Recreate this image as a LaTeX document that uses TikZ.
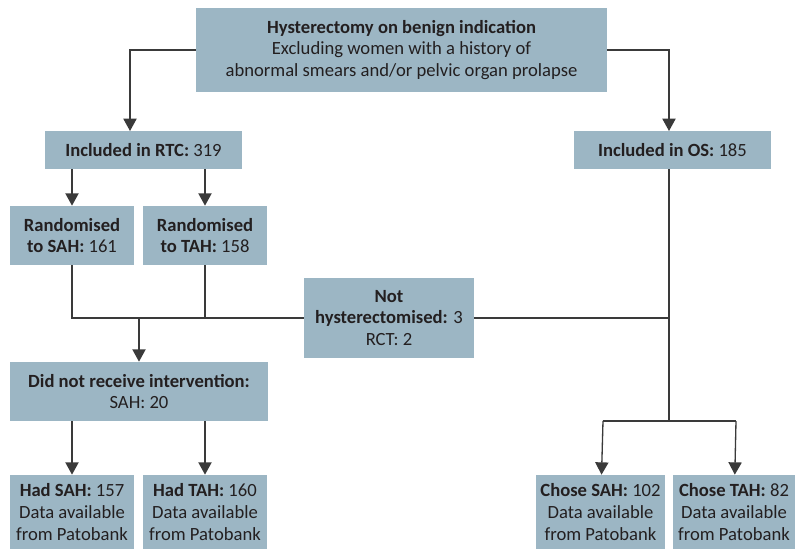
\documentclass[tikz,border=0pt]{standalone}
\usepackage{fontspec}
\setmainfont{Carlito}
\usepackage{tikz}
\usetikzlibrary{positioning, arrows.meta, calc}
\definecolor{boxblue}{HTML}{9CB6C4}
\definecolor{inkgray}{HTML}{231F20}
\definecolor{linegray}{HTML}{3A3A3A}

\begin{document}
\begin{tikzpicture}[
  x=0.02cm, y=-0.02cm,
  stage/.style={
    fill=boxblue, text=inkgray, inner sep=0pt, align=center,
    font=\fontsize{10.6}{12.3}\selectfont
  },
  arrow/.style={-{Triangle[width=7.5pt, length=7pt]}, line width=0.75pt, linegray},
  link/.style={line width=0.75pt, linegray}
]
\useasboundingbox (0,0) rectangle (795,551);

\node[stage, minimum width=8.22cm, minimum height=1.68cm] (start) at (401.5,50)
  {\textbf{Hysterectomy on benign indication}\\Excluding women with a history of\\abnormal smears and/or pelvic organ prolapse};
\node[stage, minimum width=3.94cm, minimum height=0.76cm] (rtc) at (143.5,150) {\textbf{Included in RTC:} 319};
\node[stage, minimum width=3.94cm, minimum height=0.76cm] (os) at (672.5,150) {\textbf{Included in OS:} 185};
\node[stage, minimum width=2.48cm, minimum height=1.18cm] (rsah) at (72,235.5) {\textbf{Randomised}\\\textbf{to SAH:} 161};
\node[stage, minimum width=2.48cm, minimum height=1.18cm] (rtah) at (205,235.5) {\textbf{Randomised}\\\textbf{to TAH:} 158};
\node[stage, minimum width=3.4cm, minimum height=1.6cm] (nothyst) at (389,318) {\textbf{Not}\\\textbf{hysterectomised:} 3\\RCT: 2};
\node[stage, minimum width=5.16cm, minimum height=1.18cm] (noint) at (139,391.5) {\textbf{Did not receive intervention:}\\SAH: 20};
\node[stage, minimum width=2.48cm, minimum height=1.48cm] (hadsah) at (72,512) {\textbf{Had SAH:} 157\\Data available\\from Patobank};
\node[stage, minimum width=2.48cm, minimum height=1.48cm] (hadtah) at (205,512) {\textbf{Had TAH:} 160\\Data available\\from Patobank};
\node[stage, minimum width=2.58cm, minimum height=1.48cm] (chosesah) at (600.5,512) {\textbf{Chose SAH:} 102\\Data available\\from Patobank};
\node[stage, minimum width=2.44cm, minimum height=1.48cm] (chosetah) at (734,512) {\textbf{Chose TAH:} 82\\Data available\\from Patobank};

\coordinate (rtcin) at (130,131);
\coordinate (osin) at (669,131);
\coordinate (joinl) at (72,318);
\coordinate (joinm) at (139,318);
\coordinate (joinr) at (205,318);
\coordinate (joinos) at (669,318);
\coordinate (split) at (669,421);
\coordinate (splitl) at (603,421);
\coordinate (splitr) at (736,421);

\draw[arrow] (start.west) -| (rtcin);
\draw[arrow] (start.east) -| (osin);
\draw[arrow] (rtc.south -| rsah) -- (rsah);
\draw[arrow] (rtc.south -| rtah) -- (rtah);
\draw[link] (rsah) -- (joinl) -- (nothyst.west);
\draw[link] (rtah) -- (joinr);
\draw[link] (nothyst.east) -- (joinos);
\draw[arrow] (joinm) -- (noint);
\draw[arrow] (noint.south -| hadsah) -- (hadsah);
\draw[arrow] (noint.south -| hadtah) -- (hadtah);
\draw[link] (os.south -| osin) -- (split);
\draw[link] (splitl) -- (splitr);
\draw[arrow] (splitl) -- (chosesah);
\draw[arrow] (splitr) -- (chosetah);

\end{tikzpicture}
\end{document}
